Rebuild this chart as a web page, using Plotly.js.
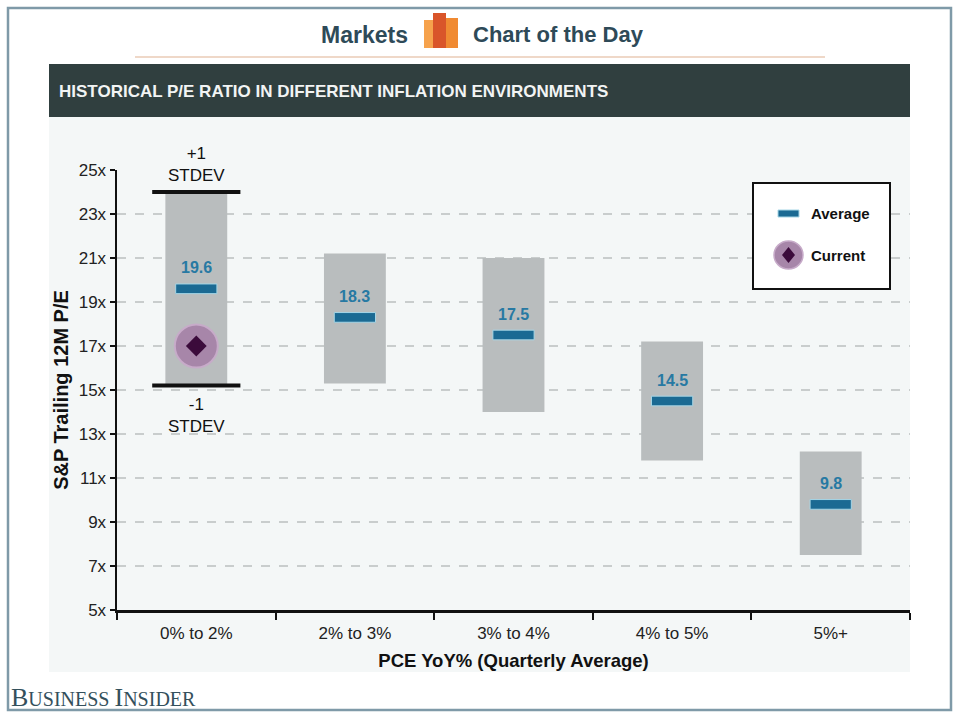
<!DOCTYPE html>
<html><head><meta charset="utf-8">
<script src="https://cdn.plot.ly/plotly-3.0.1.min.js"></script>
<style>html,body{margin:0;padding:0;background:#fff;}#chart{width:960px;height:720px;}</style>
</head><body><div id="chart"></div>
<script>
// ---- data ----
const categories = ['0% to 2%', '2% to 3%', '3% to 4%', '4% to 5%', '5%+'];
const rangeHigh = [24.0, 21.2, 21.0, 17.2, 12.2];   // +1 STDEV
const rangeLow  = [15.2, 15.3, 14.0, 11.8, 7.5];    // -1 STDEV
const averages  = [19.6, 18.3, 17.5, 14.5, 9.8];
const currentCategory = ['0% to 2%'];
const currentValue = [17.0];
const yTickVals = [5, 7, 9, 11, 13, 15, 17, 19, 21, 23, 25];
const yTickText = ['5x', '7x', '9x', '11x', '13x', '15x', '17x', '19x', '21x', '23x', '25x'];

// ---- helpers (pixel -> paper) ----
const L = 117, R = 910, T = 170, B = 610;
const px = v => (v - L) / (R - L);
const py = v => (B - v) / (B - T);
const SANS = '"Liberation Sans", Arial, sans-serif';

const avgHalf = 0.22;

const traces = [
  {
    type: 'bar', x: categories, base: rangeLow,
    y: rangeHigh.map((h, i) => h - rangeLow[i]),
    width: 0.39, marker: {color: '#b9bdbe', line: {width: 0}},
    hoverinfo: 'skip', showlegend: false
  },
  {
    type: 'bar', x: categories, base: averages.map(a => a - avgHalf),
    y: averages.map(() => 2 * avgHalf),
    width: 0.26, marker: {color: '#1b6a93', line: {color: '#a6d6e6', width: 1}},
    hoverinfo: 'skip', showlegend: false
  },
  {
    type: 'scatter', mode: 'markers',
    x: [categories[0], categories[0]], y: [rangeHigh[0], rangeLow[0]],
    marker: {symbol: 'line-ew', size: 63, color: '#111', line: {color: '#111', width: 4}},
    hoverinfo: 'skip', showlegend: false, cliponaxis: false
  },
  {
    type: 'scatter', mode: 'markers', x: currentCategory, y: currentValue,
    marker: {symbol: 'circle', size: 43, color: '#a786a9', line: {color: '#c7abc9', width: 2}},
    hoverinfo: 'skip', showlegend: false
  },
  {
    type: 'scatter', mode: 'markers', x: currentCategory, y: currentValue,
    marker: {symbol: 'diamond', size: 16, color: '#3b0b3b', line: {width: 0}},
    hoverinfo: 'skip', showlegend: false
  }
];

const annotations = [];
averages.forEach((a, i) => {
  annotations.push({
    x: categories[i], y: a, xref: 'x', yref: 'y', text: a.toFixed(1),
    showarrow: false, yshift: 21, font: {family: SANS, size: 16, color: '#2779a3', weight: 700}
  });
});
annotations.push({
  x: categories[0], y: rangeHigh[0], xref: 'x', yref: 'y', text: '+1<br>STDEV',
  showarrow: false, yanchor: 'bottom', yshift: 5, font: {family: SANS, size: 17, color: '#111'}
});
annotations.push({
  x: categories[0], y: rangeLow[0], xref: 'x', yref: 'y', text: '-1<br>STDEV',
  showarrow: false, yanchor: 'top', yshift: -7, font: {family: SANS, size: 17, color: '#111'}
});
// header
annotations.push({xref: 'paper', yref: 'paper', x: px(410), y: py(35), xanchor: 'right', yanchor: 'middle',
  text: 'Markets', showarrow: false, font: {family: SANS, size: 23, color: '#2e4a58', weight: 700}});
annotations.push({xref: 'paper', yref: 'paper', x: px(471), y: py(35), xanchor: 'left', yanchor: 'middle',
  text: 'Chart of the Day', showarrow: false, font: {family: SANS, size: 22, color: '#2e4a58', weight: 700}});
// banner
annotations.push({xref: 'paper', yref: 'paper', x: px(57), y: py(91), xanchor: 'left', yanchor: 'middle',
  text: 'HISTORICAL P/E RATIO IN DIFFERENT INFLATION ENVIRONMENTS', showarrow: false,
  font: {family: SANS, size: 17, color: '#f2f4f4', weight: 700}});
// legend text
annotations.push({xref: 'paper', yref: 'paper', x: px(809), y: py(213), xanchor: 'left', yanchor: 'middle',
  text: 'Average', showarrow: false, font: {family: SANS, size: 15, color: '#111', weight: 700}});
annotations.push({xref: 'paper', yref: 'paper', x: px(809), y: py(255), xanchor: 'left', yanchor: 'middle',
  text: 'Current', showarrow: false, font: {family: SANS, size: 15, color: '#111', weight: 700}});
// footer
annotations.push({xref: 'paper', yref: 'paper', x: px(9), y: py(697), xanchor: 'left', yanchor: 'middle',
  text: '<span style="font-size:26px">B</span>USINESS <span style="font-size:26px">I</span>NSIDER', showarrow: false,
  font: {family: '"Liberation Serif", "Times New Roman", serif', size: 20, color: '#34505c'}});

const rect = (x0, y0, x1, y1, fill, line, layer) => ({
  type: 'rect', xref: 'paper', yref: 'paper', x0: px(x0), x1: px(x1), y0: py(y1), y1: py(y0),
  fillcolor: fill, line: line || {width: 0}, layer: layer || 'below'
});

const shapes = [
  rect(49, 117, 910, 672, '#f4f7f7'),
  rect(49, 64, 910, 117, '#303f3f'),
  rect(8, 8, 951, 710, 'rgba(0,0,0,0)', {color: '#7f9aa8', width: 2.5}),
  {type: 'line', xref: 'paper', yref: 'paper', x0: px(135), x1: px(825), y0: py(57), y1: py(57),
   line: {color: '#efd8c8', width: 2}, layer: 'below'},
  // icon
  rect(424, 20, 437, 48, '#f6a24c'),
  rect(446, 18, 458, 48, '#f08a32'),
  rect(433, 13, 446, 48, '#d9552a'),
  // legend
  rect(753, 183, 890, 289, '#ffffff', {color: '#111', width: 2}, 'above'),
  rect(778, 210, 799, 217, '#1b6a93', {color: '#a6d6e6', width: 1}, 'above'),
  {type: 'circle', xref: 'paper', yref: 'paper', x0: px(774), x1: px(803), y0: py(269), y1: py(241),
   fillcolor: '#a786a9', line: {color: '#c7abc9', width: 1.5}, layer: 'above'},
  {type: 'path', xref: 'paper', yref: 'paper', layer: 'above',
   path: `M ${px(788.5)} ${py(247)} L ${px(795)} ${py(255)} L ${px(788.5)} ${py(263)} L ${px(782)} ${py(255)} Z`,
   fillcolor: '#3b0b3b', line: {width: 0}}
];

const layout = {
  width: 960, height: 720,
  margin: {l: L, r: 960 - R, t: T, b: 720 - B},
  paper_bgcolor: '#ffffff', plot_bgcolor: 'rgba(0,0,0,0)',
  barmode: 'overlay', showlegend: false,
  font: {family: SANS, color: '#222'},
  xaxis: {
    type: 'category', range: [-0.5, 4.5], tickson: 'boundaries',
    ticks: 'outside', ticklen: 7, tickwidth: 2, tickcolor: '#111', ticklabelstandoff: 6,
    showline: true, linecolor: '#111', linewidth: 2.5, showgrid: false, zeroline: false,
    tickfont: {family: SANS, size: 17, color: '#222'},
    title: {text: 'PCE YoY% (Quarterly Average)', standoff: 12,
      font: {family: SANS, size: 18.5, color: '#111', weight: 700}},
    fixedrange: true
  },
  yaxis: {
    range: [5, 25], tickvals: yTickVals, ticktext: yTickText,
    ticks: 'outside', ticklen: 5, tickwidth: 2, tickcolor: '#111',
    showline: true, linecolor: '#111', linewidth: 2.5,
    showgrid: true, gridcolor: '#c9cdcd', griddash: 'dash', gridwidth: 1.2, zeroline: false,
    tickfont: {family: SANS, size: 17, color: '#222'},
    title: {text: 'S&P Trailing 12M P/E', standoff: 5,
      font: {family: SANS, size: 20, color: '#111', weight: 700}},
    fixedrange: true
  },
  annotations: annotations,
  shapes: shapes
};

Plotly.newPlot('chart', traces, layout, {displayModeBar: false, staticPlot: true});
</script>
</body></html>
